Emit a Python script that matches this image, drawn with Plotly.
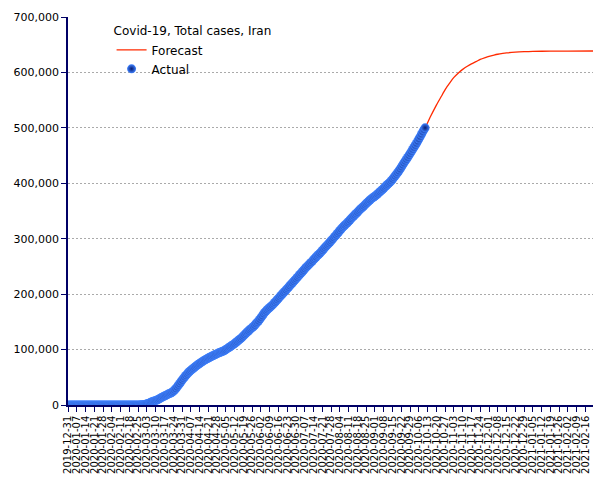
import pandas as pd
import plotly.graph_objects as go

# ---- data ----
title_text = "Covid-19, Total cases, Iran"

actual_start = "2019-12-31"
pre_outbreak = [0, 0, 0, 0, 0, 0, 0, 0, 0, 0,
                0, 0, 0, 0, 0, 0, 0, 0, 0, 0,
                0, 0, 0, 0, 0, 0, 0, 0, 0, 0,
                0, 0, 0, 0, 0, 0, 0, 0, 0, 0,
                0, 0, 0, 0, 0, 0, 0, 0, 0, 0]  # 2019-12-31 .. 2020-02-18
feb = [2, 5, 18, 28, 43, 61, 95, 139, 245, 388, 593]  # from 2020-02-19
mar = [978, 1501, 2336, 2922, 3513, 4747, 5823, 6566, 7161, 8042, 9000, 10075, 11364, 12729, 13938,
       14991, 16169, 17361, 18407, 19644, 20610, 21638, 23049, 24811, 27017, 29406, 32332, 35408,
       38309, 41495, 44605]
apr = [47593, 50468, 53183, 55743, 58226, 60500, 62589, 64586, 66220, 68192, 70029, 71686, 73303,
       74877, 76389, 77995, 79494, 80868, 82211, 83505, 84802, 85996, 87026, 88194, 89328, 90481,
       91472, 92584, 93657, 94640]
may = [95646, 96448, 97424, 98647, 99970, 101650, 103135, 104691, 106220, 107603, 109286, 110767,
       112725, 114533, 116635, 118392, 120198, 122492, 124603, 126949, 129341, 131652, 133521,
       135701, 137724, 139511, 141591, 143849, 146668, 148950, 151466]
jun = [154445, 157562, 160696, 164270, 167156, 169425, 171789, 173832, 175927, 177938, 180156,
       182525, 184955, 187427, 189876, 192439, 195051, 197647, 200262, 202584, 204952, 207525,
       209970, 212501, 215096, 217724, 220180, 222669, 225205, 227662]
jul = [230211, 232863, 235429, 237878, 240438, 243051, 245688, 248379, 250458, 252720, 255117,
       257303, 259652, 262173, 264561, 267061, 269440, 271606, 273788, 276202, 278827, 281413,
       284034, 286523, 288839, 291172, 293606, 296273, 298909, 301530, 304204]
aug = [306752, 309437, 312035, 314786, 317483, 320117, 322567, 324692, 326712, 328844, 331189,
       333699, 336324, 338825, 341070, 343203, 345450, 347835, 350279, 352558, 354764, 356792,
       358905, 361150, 363363, 365606, 367796, 369911, 371816, 373570, 375212]
sep = [376894, 378752, 380746, 382772, 384666, 386658, 388810, 391112, 393425, 395488, 397801,
       399940, 402029, 404648, 407353, 410334, 413149, 416198, 419043, 422140, 425481, 429193,
       432798, 436319, 439882, 443086, 446448, 449960, 453637, 457219]
octo = [461044, 464596, 468119, 471772, 475674, 479825, 483844, 488236, 492378, 496253, 500075]

forecast_dates = ["2020-06-07", "2020-07-05", "2020-08-02", "2020-08-30", "2020-09-27",
                  "2020-10-11", "2020-10-15", "2020-10-20", "2020-10-24", "2020-10-27",
                  "2020-10-31", "2020-11-03", "2020-11-07", "2020-11-10", "2020-11-14",
                  "2020-11-17", "2020-11-21", "2020-11-24", "2020-11-28", "2020-12-01",
                  "2020-12-05", "2020-12-08", "2020-12-12", "2020-12-15", "2020-12-22",
                  "2020-12-29", "2021-01-05", "2021-01-19", "2021-02-02", "2021-02-22"]
forecast_values = [167000, 239000, 308000, 372000, 446000,
                   500000, 519000, 541000, 557000, 569000,
                   582000, 591000, 600000, 605500, 611500,
                   615500, 620000, 623500, 626800, 629000,
                   631300, 632800, 634300, 635200, 636600,
                   637400, 637900, 638400, 638600, 638700]

actual_values = pre_outbreak + feb + mar + apr + may + jun + jul + aug + sep + octo
actual_dates = pd.date_range(actual_start, periods=len(actual_values), freq="D")

AXIS = "#000066"
FONT = "DejaVu Sans"

fig = go.Figure()
fig.add_trace(go.Scatter(
    x=forecast_dates, y=forecast_values, name="Forecast", mode="lines",
    line=dict(color="#ff2a00", width=1.3, shape="spline", smoothing=0.6),
))
fig.add_trace(go.Scatter(
    x=actual_dates, y=actual_values, name="Actual", mode="markers",
    marker=dict(size=9, color="#3f82ff", line=dict(width=0),
                gradient=dict(type="radial", color="#061a70")),
))

fig.update_layout(
    width=605, height=480,
    margin=dict(l=68, r=12, t=17, b=75),
    paper_bgcolor="white", plot_bgcolor="white",
    font=dict(family=FONT, size=11, color="black"),
    showlegend=True,
    legend=dict(
        title=dict(text=title_text, font=dict(family=FONT, size=12)),
        x=0.083, y=0.993, xanchor="left", yanchor="top",
        bgcolor="rgba(0,0,0,0)", font=dict(family=FONT, size=12),
        tracegroupgap=0,
    ),
    xaxis=dict(
        type="date", automargin=False,
        range=["2019-12-31", "2021-02-22"],
        tick0="2019-12-31", dtick=7 * 86400000,
        tickformat="%Y-%m-%d", tickangle=-90,
        tickfont=dict(family=FONT, size=10),
        ticks="outside", ticklen=5, tickcolor=AXIS,
        showline=True, linecolor=AXIS, linewidth=1.5,
        showgrid=False, zeroline=False,
    ),
    yaxis=dict(
        automargin=False,
        range=[0, 700000], dtick=100000, tickformat=",d",
        tickfont=dict(family=FONT, size=11),
        ticks="outside", ticklen=5, tickcolor=AXIS,
        showline=True, linecolor=AXIS, linewidth=1.5,
        showgrid=True, gridcolor="#aaaaaa", gridwidth=1, griddash="2px,2px",
        zeroline=False,
    ),
)

fig.write_html("out.html")
